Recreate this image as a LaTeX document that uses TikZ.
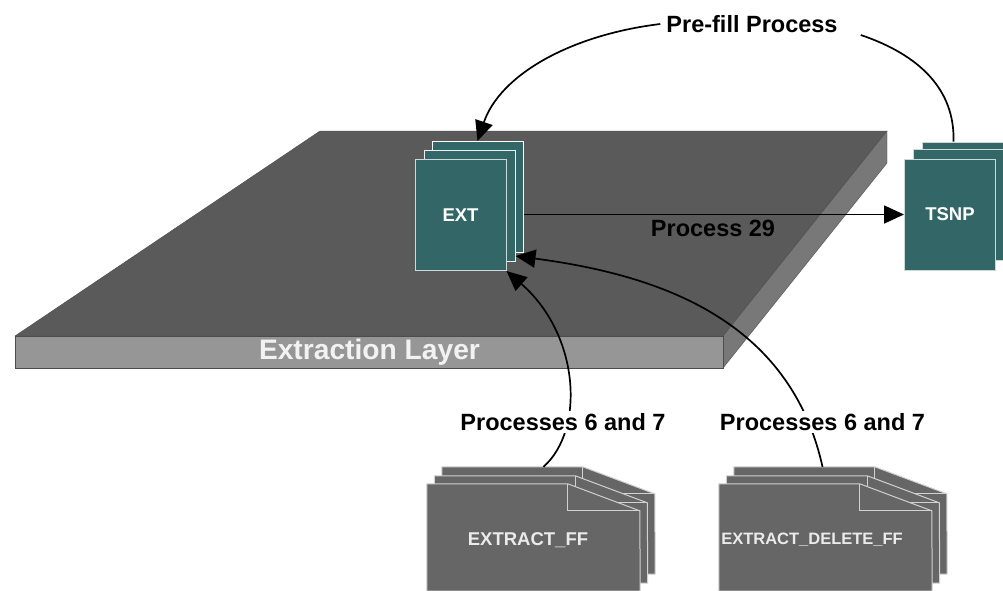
\documentclass[tikz,border=0pt]{standalone}
\usepackage{fontspec}
\setmainfont{Liberation Sans}
\usetikzlibrary{arrows.meta}
\definecolor{layertop}{HTML}{5A5A5A}
\definecolor{layerfront}{HTML}{969696}
\definecolor{layerside}{HTML}{787878}
\definecolor{tealsheet}{HTML}{336666}
\definecolor{greysheet}{HTML}{666666}
\tikzset{
  flow/.style={line width=1.7pt,black},
  flowtip/.style={flow,-{Triangle[length=20pt,width=18pt]}},
  flowlabel/.style={font=\bfseries\fontsize{23.5}{27}\selectfont,black,inner sep=6pt},
  tealpage/.style={draw=#1,line width=1pt,fill=tealsheet,minimum width=91pt,minimum height=111pt,inner sep=0pt,
    text=white,font=\bfseries\fontsize{18.5}{22}\selectfont},
  tealpage/.default=white!75!tealsheet,
  filebox/.style={minimum width=213pt,minimum height=107pt,inner sep=0pt},
  fileline/.style={draw=white!70!greysheet,line width=1pt,fill=greysheet},
  filetext/.style={text=white!92!black,inner sep=0pt,font=\bfseries\fontsize{#1}{22}\selectfont}
}
\newcommand{\foldedfile}[3]{%
  \node[filebox] (#1) at (#2,#3) {};
  \draw[fileline] (#1.north west) -- ++(141,0) -- ++(72,27) -- (#1.south east) -- (#1.south west) -- cycle;
  \draw[fileline,fill=none] (#1.north west) ++(141,0) -- ++(0,27) -- ++(72,0);
}
\begin{document}
\begin{tikzpicture}[x=1pt,y=-1pt]
        \clip (0,0) rectangle (1003,590);
        \fill[white] (0,0) rectangle (1003,590);
        %% Layer
        \draw[draw=black!70,fill=layertop] (320,131) -- (887,131) -- (723,336) -- (15,336) -- cycle;
        \draw[draw=black!70,fill=layerside] (887,131) -- (887,163) -- (723,368) -- (723,336) -- cycle;
        \draw[draw=black!70,fill=layerfront] (15,336) -- (723,336) -- (723,368) -- (15,368) -- cycle;
        \node[text=white!95!black,inner sep=0pt,font=\bfseries\fontsize{28.2}{32}\selectfont] (layer) at (369.5,352) {Extraction Layer};
        %% Stacks
        \node[tealpage=white] (extback) at (477.5,197) {};
        \node[tealpage=white!90!tealsheet] (extmiddle) at (469.5,206) {};
        \node[tealpage] (extfront) at (460.5,215) {EXT};
        \node[tealpage] (tsnpback) at (967.5,197.5) {};
        \node[tealpage] (tsnpmiddle) at (958.5,205) {};
        \node[tealpage] (tsnpfront) at (950,214.5) {TSNP};
        %% Files
        \foldedfile{ffback}{548.5}{520.5}
        \foldedfile{ffmiddle}{541}{529.5}
        \foldedfile{fffront}{533.5}{537.5}
        \foldedfile{delback}{840.5}{520.5}
        \foldedfile{delmiddle}{833}{529.5}
        \foldedfile{delfront}{825.5}{537.5}
        \node[filetext=18.5] (extractff) at (528,540) {EXTRACT\_FF};
        \node[filetext=16.5] (extractdel) at (812,540) {EXTRACT\_DELETE\_FF};
        %% Labels
        \node[flowlabel] (prefill) at (752,24) {Pre-fill Process};
        \node[flowlabel] (process) at (713,228) {Process 29};
        %% Arrows
        \draw[flowtip] (prefill.west) .. controls (570,35) and (500,75) .. (extback.north);
        \draw[flow] ([xshift=17pt,yshift=-11pt]prefill.east) .. controls (920,55) and (955,90) .. ([xshift=32pt]tsnpback.north west);
        \draw[flowtip] (extback.east |- tsnpfront.west) -- (tsnpfront.west);
        \draw[flowtip] ([xshift=-5pt]ffback.north) .. controls (585,430) and (580,335) .. (extfront.south east);
        \draw[flowtip] ([xshift=-18pt]delback.north) .. controls (790,320) and (660,275) .. ([yshift=-3pt]extmiddle.east |- extback.south);
        %% Labels over the arrows
        \node[flowlabel,fill=white,inner sep=2pt] (ffprocess) at (563,422) {Processes 6 and 7};
        \node[flowlabel,fill=white,inner sep=2pt] (delprocess) at (822.5,422) {Processes 6 and 7};
\end{tikzpicture}
\end{document}
